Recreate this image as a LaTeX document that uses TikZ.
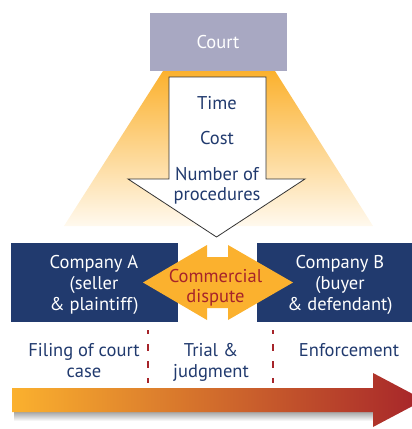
\documentclass[tikz,border=0pt]{standalone}
\usepackage{fontspec}
\setmainfont{PT Sans}
\definecolor{courtc}{HTML}{A8A8C2}
\definecolor{navy}{HTML}{213A6E}
\definecolor{orng}{HTML}{FBB12E}
\definecolor{drk}{HTML}{A6242A}
\definecolor{brn}{HTML}{DE8A2C}
\definecolor{pale}{HTML}{FFF9EE}
\tikzset{
  lbl/.style={anchor=base, inner sep=0pt, font=\fontsize{18.5}{20}\selectfont},
  navytxt/.style={lbl, text=navy},
  whitetxt/.style={lbl, text=white},
  redtxt/.style={lbl, text=drk},
  phase/.style={drk, line width=2.7pt, dash pattern=on 7pt off 10pt, dash phase=3pt},
}
\begin{document}
\begin{tikzpicture}[x=1pt,y=-1pt]
\useasboundingbox (0,0) rectangle (412,429);
\clip (0,0) rectangle (412,429);
% spotlight
\shade[top color=orng, bottom color=pale] (163,71) -- (275,71) -- (373,226) -- (64,226) -- cycle;
% court
\node[fill=courtc, minimum width=137pt, minimum height=58pt, inner sep=0pt] (court) at (218.5,42) {};
\node[whitetxt] (courtt) at (218,48) {Court};
% down arrow
\draw[fill=white, draw=black!80, line width=0.8pt] (169,77) -- (266,77) -- (266,179) -- (305,179) -- (216.5,237) -- (128,179) -- (169,179) -- cycle;
\node[navytxt] (time) at (217,109) {Time};
\node[navytxt] (cost) at (217,144) {Cost};
\node[navytxt] (num) at (217,180) {Number of};
\node[navytxt] (proc) at (217,200) {procedures};
% company boxes
\node[fill=navy, minimum width=167pt, minimum height=79pt, inner sep=0pt] (boxa) at (94.5,282.5) {};
\node[fill=navy, minimum width=155pt, minimum height=79pt, inner sep=0pt] (boxb) at (334.5,282.5) {};
\node[whitetxt] (a1) at (94,268) {Company A};
\node[whitetxt] (a2) at (94,289) {(seller};
\node[whitetxt] (a3) at (94,310) {\& plaintiff)};
\node[whitetxt] (b1) at (340,268) {Company B};
\node[whitetxt] (b2) at (340,289) {(buyer};
\node[whitetxt] (b3) at (340,310) {\& defendant)};
% double arrow
\fill[orng] (143,282.5) -- (207,245) -- (207,257) -- (228,257) -- (228,245) -- (293,282.5) -- (228,320) -- (228,308) -- (207,308) -- (207,320) -- cycle;
\node[redtxt] (c1) at (215.5,282) {Commercial};
\node[redtxt] (c2) at (215.5,302) {dispute};
% phases
\coordinate (d1t) at (148,330); \coordinate (d1b) at (148,383);
\coordinate (d2t) at (273,330); \coordinate (d2b) at (273,383);
\draw[phase] (d1t) -- (d1b);
\draw[phase] (d2t) -- (d2b);
\node[navytxt] (f1) at (84,356) {Filing of court};
\node[navytxt] (f2) at (84,377) {case};
\node[navytxt] (t1) at (211,356) {Trial \&};
\node[navytxt] (t2) at (211,377) {judgment};
\node[navytxt] (e1) at (349,356) {Enforcement};
% bottom arrow shadow
\shade[top color=black!35, bottom color=white] (14,412) rectangle (376,421);
% bottom arrow
\shade[left color=orng, middle color=brn, right color=drk] (12,388) -- (373,388) -- (373,373) -- (424,400) -- (373,427) -- (373,412) -- (12,412) -- cycle;
\end{tikzpicture}
\end{document}
